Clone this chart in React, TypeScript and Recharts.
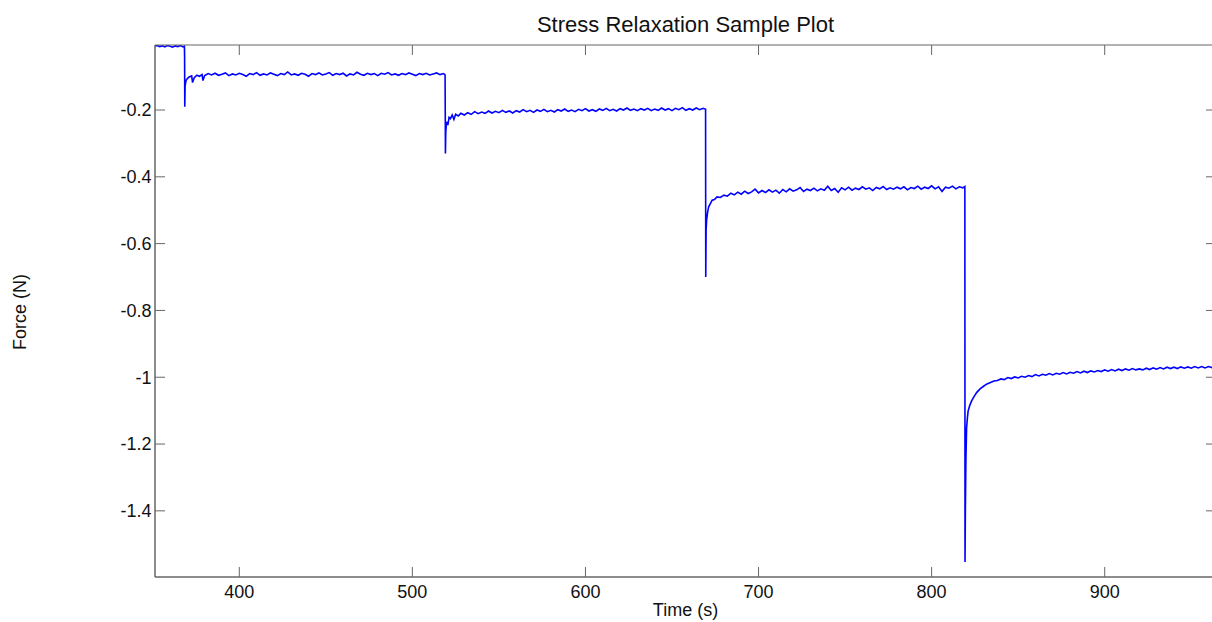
import React from 'react';
import { LineChart, Line, XAxis, YAxis, Label } from 'recharts';

// time (s), force (N), one hold step per array
const preload: [number, number][] = [
  [351.3, -0.009], [352.5, -0.007], [354, -0.010], [355.5, -0.008], [357, -0.011], [358.5, -0.007],
  [360, -0.009], [361.5, -0.012], [363, -0.008], [364.5, -0.010], [366, -0.007], [367.5, -0.011],
  [368.3, -0.009], [368.4, -0.04],
];

const hold1: [number, number][] = [
  [368.5, -0.19], [368.7, -0.128], [369.2, -0.112], [370, -0.106], [371, -0.101], [372.5, -0.098],
  [373, -0.118], [374, -0.103], [375.5, -0.096], [377, -0.099], [378.5, -0.094], [379, -0.112],
  [380, -0.097], [382, -0.091], [384, -0.095], [386, -0.090], [388, -0.096], [390, -0.093],
  [392, -0.089], [394, -0.097], [396, -0.092], [398, -0.095], [400, -0.090], [402, -0.094],
  [404, -0.099], [406, -0.091], [408, -0.094], [410, -0.088], [412, -0.096], [414, -0.092],
  [416, -0.095], [418, -0.089], [420, -0.093], [422, -0.097], [424, -0.091], [426, -0.094],
  [428, -0.086], [430, -0.095], [432, -0.092], [434, -0.096], [436, -0.090], [438, -0.093],
  [440, -0.099], [442, -0.091], [444, -0.094], [446, -0.089], [448, -0.095], [450, -0.092],
  [452, -0.088], [454, -0.096], [456, -0.091], [458, -0.094], [460, -0.090], [462, -0.098],
  [464, -0.092], [466, -0.095], [468, -0.087], [470, -0.093], [472, -0.096], [474, -0.090],
  [476, -0.094], [478, -0.091], [480, -0.097], [482, -0.090], [484, -0.093], [486, -0.088],
  [488, -0.095], [490, -0.092], [492, -0.096], [494, -0.091], [496, -0.094], [498, -0.089],
  [500, -0.093], [502, -0.097], [504, -0.091], [506, -0.094], [508, -0.090], [510, -0.095],
  [512, -0.092], [514, -0.089], [516, -0.094], [518, -0.091], [518.9, -0.095],
];

const hold2: [number, number][] = [
  [518.95, -0.155], [519.1, -0.33], [519.3, -0.265], [519.8, -0.235], [520.5, -0.245], [521.2, -0.222],
  [522, -0.226], [523, -0.215], [524, -0.228], [525, -0.213], [526.5, -0.218], [528, -0.210],
  [530, -0.215], [532, -0.208], [534, -0.213], [536, -0.205], [538, -0.211], [540, -0.206],
  [542, -0.210], [544, -0.203], [546, -0.209], [548, -0.204], [550, -0.208], [552, -0.201],
  [554, -0.207], [556, -0.203], [558, -0.209], [560, -0.202], [562, -0.206], [564, -0.199],
  [566, -0.205], [568, -0.201], [570, -0.207], [572, -0.200], [574, -0.204], [576, -0.198],
  [578, -0.205], [580, -0.201], [582, -0.206], [584, -0.199], [586, -0.203], [588, -0.197],
  [590, -0.204], [592, -0.200], [594, -0.205], [596, -0.198], [598, -0.202], [600, -0.196],
  [602, -0.203], [604, -0.199], [606, -0.204], [608, -0.197], [610, -0.201], [612, -0.195],
  [614, -0.202], [616, -0.198], [618, -0.203], [620, -0.196], [622, -0.200], [624, -0.194],
  [626, -0.201], [628, -0.197], [630, -0.202], [632, -0.196], [634, -0.200], [636, -0.195],
  [638, -0.202], [640, -0.197], [642, -0.201], [644, -0.194], [646, -0.200], [648, -0.196],
  [650, -0.202], [652, -0.195], [654, -0.199], [656, -0.193], [658, -0.201], [660, -0.196],
  [662, -0.200], [664, -0.194], [666, -0.199], [668, -0.195], [669.4, -0.198],
];

const hold3: [number, number][] = [
  [669.5, -0.70], [669.7, -0.56], [670, -0.53], [670.6, -0.505], [671.2, -0.49], [672, -0.482],
  [673.2, -0.47], [674.5, -0.468], [676, -0.46], [678, -0.462],
  [680, -0.455], [682, -0.458], [684, -0.449], [686, -0.454], [688, -0.446], [690, -0.452],
  [692, -0.443], [694, -0.450], [696, -0.445], [698, -0.437], [700, -0.448], [702, -0.441],
  [704, -0.447], [706, -0.439], [708, -0.446], [710, -0.440], [712, -0.449], [714, -0.438],
  [716, -0.445], [718, -0.436], [720, -0.443], [722, -0.439], [724, -0.432], [726, -0.444],
  [728, -0.437], [730, -0.441], [732, -0.434], [734, -0.442], [736, -0.436], [738, -0.440],
  [740, -0.428], [742, -0.441], [744, -0.435], [746, -0.446], [748, -0.433], [750, -0.439],
  [752, -0.431], [754, -0.440], [756, -0.434], [758, -0.438], [760, -0.430], [762, -0.437],
  [764, -0.433], [766, -0.441], [768, -0.432], [770, -0.436], [772, -0.429], [774, -0.438],
  [776, -0.433], [778, -0.437], [780, -0.431], [782, -0.436], [784, -0.430], [786, -0.439],
  [788, -0.432], [790, -0.435], [792, -0.428], [794, -0.437], [796, -0.431], [798, -0.435],
  [800, -0.427], [802, -0.436], [804, -0.430], [806, -0.444], [808, -0.431], [810, -0.434],
  [812, -0.428], [814, -0.436], [816, -0.430], [818, -0.433], [819.2, -0.429],
];

const hold4: [number, number][] = [
  [819.3, -1.553], [819.5, -1.40], [819.8, -1.25], [820.2, -1.151], [820.7, -1.12], [821.1, -1.101],
  [822, -1.085], [823.1, -1.071], [824.5, -1.058], [826, -1.046], [828, -1.035], [830, -1.027],
  [832, -1.020], [834, -1.016], [836, -1.011],
  [838, -1.010], [840, -1.005], [842, -1.007], [844, -1.001], [846, -1.004], [848, -0.999],
  [850, -1.002], [852, -0.997], [854, -1.000], [856, -0.995], [858, -0.998], [860, -0.992],
  [862, -0.996], [864, -0.991], [866, -0.994], [868, -0.989], [870, -0.993], [872, -0.988],
  [874, -0.991], [876, -0.986], [878, -0.990], [880, -0.985], [882, -0.988], [884, -0.983],
  [886, -0.987], [888, -0.982], [890, -0.986], [892, -0.981], [894, -0.984], [896, -0.980],
  [898, -0.983], [900, -0.978], [902, -0.982], [904, -0.977], [906, -0.981], [908, -0.976],
  [910, -0.980], [912, -0.975], [914, -0.979], [916, -0.974], [918, -0.978], [920, -0.975],
  [922, -0.978], [924, -0.973], [926, -0.977], [928, -0.972], [930, -0.976], [932, -0.971],
  [934, -0.975], [936, -0.970], [938, -0.974], [940, -0.970], [942, -0.974], [944, -0.969],
  [946, -0.973], [948, -0.969], [950, -0.973], [952, -0.968], [954, -0.972], [956, -0.968],
  [958, -0.972], [960, -0.968], [962, -0.971], [964, -0.969],
];

const timeTicks = [400, 500, 600, 700, 800, 900];
const forceTicks = [-1.4, -1.2, -1, -0.8, -0.6, -0.4, -0.2];
const timeDomain = [351.3, 964.3];
const forceDomain = [-1.598, -0.0054];

const samples = [...preload, ...hold1, ...hold2, ...hold3, ...hold4].map(([t, f]) => ({ t, f }));

const FONT = '"Liberation Sans", Arial, Helvetica, sans-serif';
const AXIS = '#666';
const blank = () => '';

export default function App() {
  return (
    <div
      style={{
        position: 'fixed',
        left: 0,
        top: 0,
        width: 1212,
        height: 622,
        overflow: 'hidden',
        background: '#fff',
        fontFamily: FONT,
      }}
    >
      <LineChart width={1230} height={622} data={samples} margin={{ top: 45, right: 14, left: 0, bottom: 0 }}>
        {/* labelled axes, no tick marks */}
        <XAxis
          xAxisId="b"
          dataKey="t"
          type="number"
          domain={timeDomain}
          ticks={timeTicks}
          allowDataOverflow
          height={45}
          stroke={AXIS}
          tickLine={false}
          tickSize={0}
          tickMargin={8}
          tick={{ fill: '#111', fontSize: 18 }}
        >
          <Label value="Time (s)" position="insideBottom" offset={6.5} style={{ fill: '#111', fontSize: 18 }} />
        </XAxis>
        <YAxis
          yAxisId="l"
          type="number"
          domain={forceDomain}
          ticks={forceTicks}
          allowDataOverflow
          width={155}
          stroke={AXIS}
          tickLine={false}
          tickSize={0}
          tickMargin={3.5}
          tick={{ fill: '#111', fontSize: 18 }}
          tickFormatter={(v: number) => String(v)}
        />
        {/* mirrored axes draw the inward tick marks on all four sides */}
        <XAxis
          xAxisId="bm"
          orientation="bottom"
          mirror
          dataKey="t"
          type="number"
          domain={timeDomain}
          ticks={timeTicks}
          allowDataOverflow
          height={20}
          stroke={AXIS}
          tickSize={10}
          tickFormatter={blank}
        />
        <XAxis
          xAxisId="tm"
          orientation="top"
          mirror
          dataKey="t"
          type="number"
          domain={timeDomain}
          ticks={timeTicks}
          allowDataOverflow
          height={20}
          stroke={AXIS}
          tickSize={10}
          tickFormatter={blank}
        />
        <YAxis
          yAxisId="lm"
          orientation="left"
          mirror
          type="number"
          domain={forceDomain}
          ticks={forceTicks}
          allowDataOverflow
          width={20}
          stroke={AXIS}
          tickSize={10}
          tickFormatter={blank}
        />
        <YAxis
          yAxisId="rm"
          orientation="right"
          mirror
          type="number"
          domain={forceDomain}
          ticks={forceTicks}
          allowDataOverflow
          width={20}
          stroke={AXIS}
          tickSize={10}
          tickFormatter={blank}
        />
        <Line
          xAxisId="b"
          yAxisId="l"
          type="linear"
          dataKey="f"
          stroke="#0000ff"
          strokeWidth={1.6}
          dot={false}
          isAnimationActive={false}
        />
      </LineChart>
      <svg
        width={1212}
        height={622}
        style={{ position: 'absolute', left: 0, top: 0, pointerEvents: 'none', fontFamily: FONT }}
      >
        <text x={685.5} y={31.5} textAnchor="middle" fontSize={22} fill="#111">
          Stress Relaxation Sample Plot
        </text>
        <text transform="translate(26,312) rotate(-90)" textAnchor="middle" fontSize={18} fill="#111">
          Force (N)
        </text>
      </svg>
    </div>
  );
}
